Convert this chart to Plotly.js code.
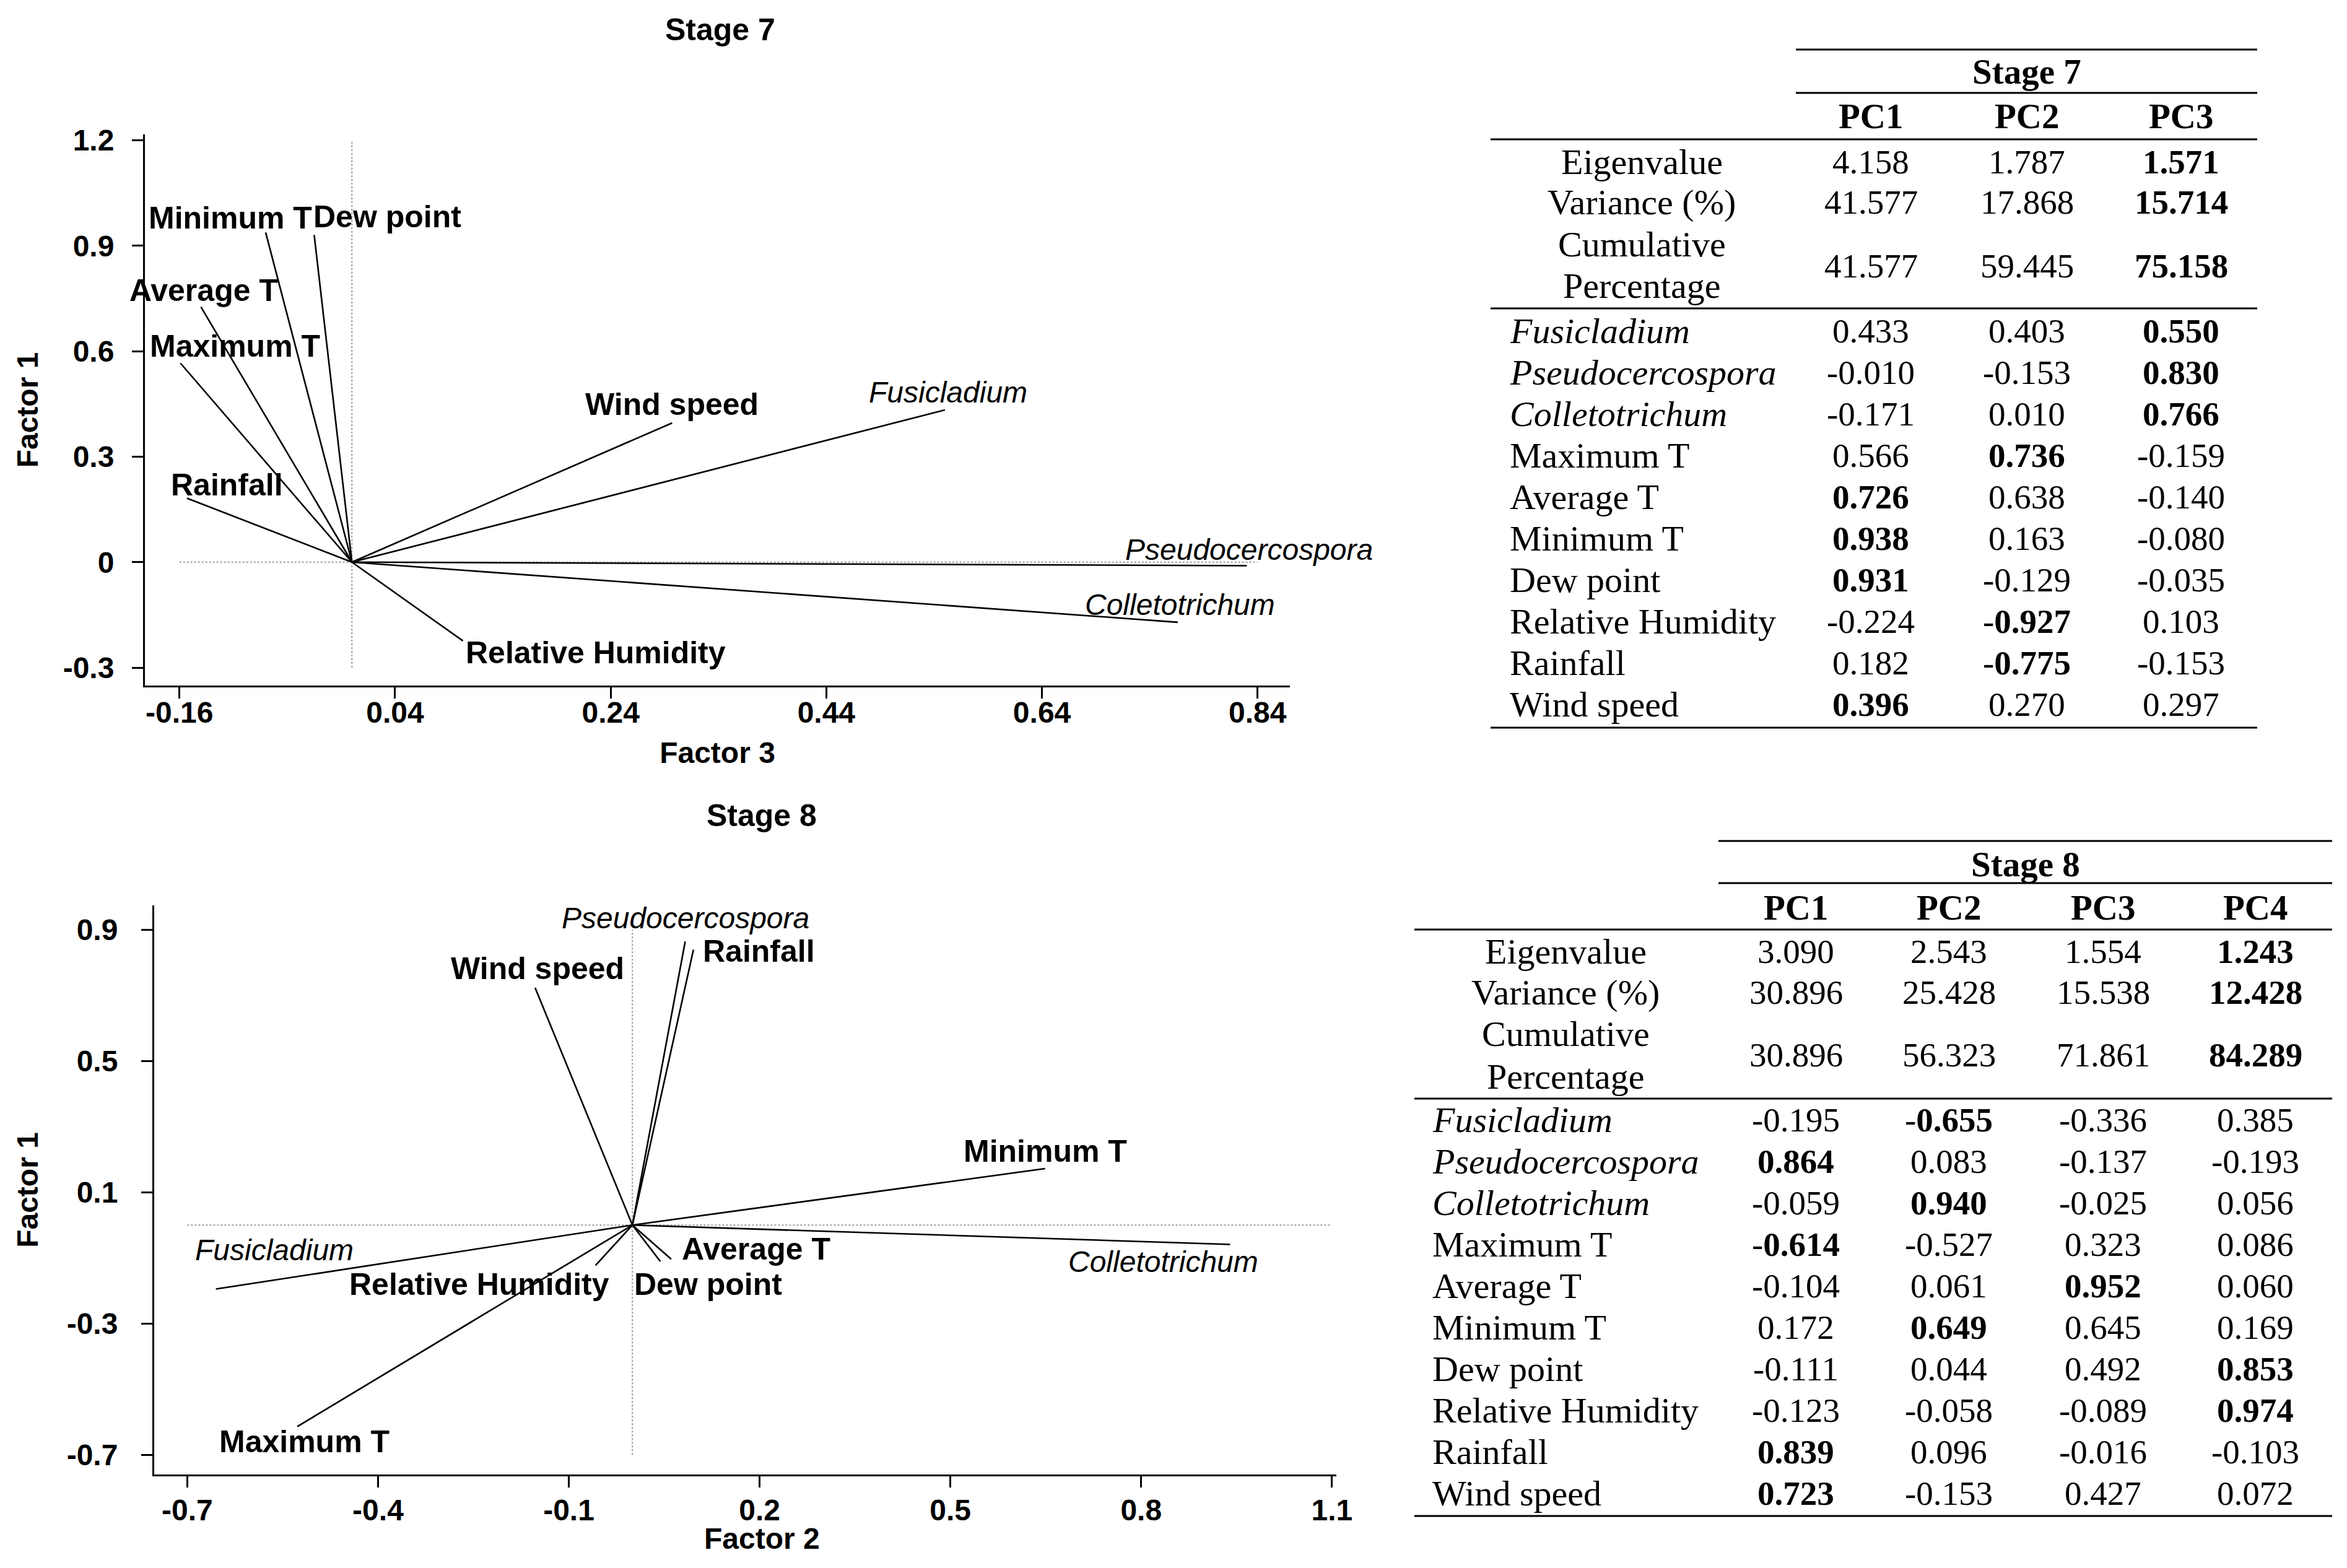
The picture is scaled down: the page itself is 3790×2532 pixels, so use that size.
<!DOCTYPE html>
<html><head><meta charset="utf-8">
<script src="https://cdn.plot.ly/plotly-3.0.1.min.js"></script>
<style>html,body{margin:0;padding:0;background:#fff}#chart{width:3790px;height:2532px}</style>
</head><body><div id="chart"></div>
<script>
const W = 3790, H = 2532;

// ---------- DATA ----------
const variables = ['Fusicladium','Pseudocercospora','Colletotrichum','Maximum T','Average T','Minimum T','Dew point','Relative Humidity','Rainfall','Wind speed'];
const italicVars = ['Fusicladium','Pseudocercospora','Colletotrichum'];

// Stage 7
const s7PCs = ['PC1','PC2','PC3'];
const s7Eigen = [4.158, 1.787, 1.571];
const s7Variance = [41.577, 17.868, 15.714];
const s7Cumulative = [41.577, 59.445, 75.158];
const s7PC1 = [0.433, -0.010, -0.171, 0.566, 0.726, 0.938, 0.931, -0.224, 0.182, 0.396];
const s7PC2 = [0.403, -0.153, 0.010, 0.736, 0.638, 0.163, -0.129, -0.927, -0.775, 0.270];
const s7PC3 = [0.550, 0.830, 0.766, -0.159, -0.140, -0.080, -0.035, 0.103, -0.153, 0.297];
const s7BoldCol = [2, 2, 2, 1, 0, 0, 0, 1, 1, 0];
const s7SummaryBoldCol = 2;
const s7XTicks = [-0.16, 0.04, 0.24, 0.44, 0.64, 0.84];
const s7XTickText = ['-0.16','0.04','0.24','0.44','0.64','0.84'];
const s7YTicks = [1.2, 0.9, 0.6, 0.3, 0, -0.3];
const s7YTickText = ['1.2','0.9','0.6','0.3','0','-0.3'];

// Stage 8
const s8PCs = ['PC1','PC2','PC3','PC4'];
const s8Eigen = [3.090, 2.543, 1.554, 1.243];
const s8Variance = [30.896, 25.428, 15.538, 12.428];
const s8Cumulative = [30.896, 56.323, 71.861, 84.289];
const s8PC1 = [-0.195, 0.864, -0.059, -0.614, -0.104, 0.172, -0.111, -0.123, 0.839, 0.723];
const s8PC2 = [-0.655, 0.083, 0.940, -0.527, 0.061, 0.649, 0.044, -0.058, 0.096, -0.153];
const s8PC3 = [-0.336, -0.137, -0.025, 0.323, 0.952, 0.645, 0.492, -0.089, -0.016, 0.427];
const s8PC4 = [0.385, -0.193, 0.056, 0.086, 0.060, 0.169, 0.853, 0.974, -0.103, 0.072];
const s8BoldCol = [1, 0, 1, 0, 2, 1, 3, 3, 0, 0];
const s8SummaryBoldCol = 3;
const s8XTicks = [-0.7, -0.4, -0.1, 0.2, 0.5, 0.8, 1.1];
const s8XTickText = ['-0.7','-0.4','-0.1','0.2','0.5','0.8','1.1'];
const s8YTicks = [0.9, 0.5, 0.1, -0.3, -0.7];
const s8YTickText = ['0.9','0.5','0.1','-0.3','-0.7'];

// ---------- STYLE / POSITIONS ----------
const SANS = 'Liberation Sans, Arial, sans-serif';
const SERIF = 'Liberation Serif, Times New Roman, serif';
// label centre offsets (px) from the arrow tip: [dx, dyUp]
const s7LabelOffsets = [[5,29],[4,26],[4,28],[88,28],[4,27],[-57,23],[118,29],[214,-19],[65,21],[0,30]];
const s8LabelOffsets = [[94,63],[1,38],[-108,-28],[11,-24],[137,16],[0,28],[77,-37],[-188,-31],[106,-2],[4,31]];

const px = v => v / W;
const py = v => 1 - v / H;

function vectorTrace(xs, ys, xa, ya) {
  const X = [], Y = [];
  xs.forEach((v, i) => { X.push(0, v, null); Y.push(0, ys[i], null); });
  return {type:'scatter', mode:'lines', x:X, y:Y, xaxis:xa, yaxis:ya,
          line:{color:'#000', width:2.6}, hoverinfo:'skip', showlegend:false};
}

const annotations = [];
const shapes = [];

function addLabels(xs, ys, offs, xref, yref) {
  variables.forEach((name, i) => {
    const it = italicVars.includes(name);
    annotations.push({xref, yref, x: xs[i], y: ys[i], text: name, showarrow:false,
      xanchor:'center', yanchor:'middle', xshift: offs[i][0], yshift: offs[i][1],
      font:{family:SANS, size: it ? 48 : 50, color:'#000', weight: it ? 400 : 700, style: it ? 'italic' : 'normal'}});
  });
}

function addRefLines(xTicks, yTicks, xref, yref) {
  const xmin = Math.min(...xTicks), xmax = Math.max(...xTicks);
  const ymin = Math.min(...yTicks), ymax = Math.max(...yTicks);
  shapes.push({type:'line', xref, yref, x0:xmin, x1:xmax, y0:0, y1:0, line:{color:'#9a9a9a', width:2, dash:'dot'}, layer:'below'});
  shapes.push({type:'line', xref, yref, x0:0, x1:0, y0:ymin, y1:ymax, line:{color:'#9a9a9a', width:2, dash:'dot'}, layer:'below'});
}

function fmt(v) { return v.toFixed(3); }
function boldNum(v) {
  const s = fmt(v);
  return s.startsWith('-') ? '-<b>' + s.slice(1) + '</b>' : '<b>' + s + '</b>';
}

function addTable(g, stage, pcs, eigen, variance, cumulative, loadCols, boldCols, summaryBold) {
  const FN = {family:SERIF, size:55, color:'#000'};
  const FL = {family:SERIF, size:58, color:'#000'};
  const FH = {family:SERIF, size:57, color:'#000'};
  const txt = (x, y, text, anchor, font) => annotations.push({xref:'paper', yref:'paper', x:px(x), y:py(y), text,
      showarrow:false, xanchor:anchor, yanchor:'middle', font:font});
  const line = (x0, x1, y, w) => shapes.push({type:'line', xref:'paper', yref:'paper', x0:px(x0), x1:px(x1), y0:py(y), y1:py(y), line:{color:'#000', width:w}});
  line(g.headX[0], g.headX[1], g.topY, 3);
  line(g.headX[0], g.headX[1], g.midY, 3);
  line(g.fullX[0], g.fullX[1], g.headLineY, 3);
  line(g.fullX[0], g.fullX[1], g.sepY, 3);
  line(g.fullX[0], g.fullX[1], g.bottomY, 3);
  txt((g.headX[0] + g.headX[1]) / 2, g.stageY, '<b>' + stage + '</b>', 'center', FH);
  pcs.forEach((p, j) => {
    txt(g.colX[j], g.pcY, '<b>' + p + '</b>', 'center', FH);
    const b = j === summaryBold;
    txt(g.colX[j], g.eigenY, b ? boldNum(eigen[j]) : fmt(eigen[j]), 'center', FN);
    txt(g.colX[j], g.varY, b ? boldNum(variance[j]) : fmt(variance[j]), 'center', FN);
    txt(g.colX[j], g.cumValY, b ? boldNum(cumulative[j]) : fmt(cumulative[j]), 'center', FN);
  });
  txt(g.labelCX, g.eigenY, 'Eigenvalue', 'center', FL);
  txt(g.labelCX, g.varY, 'Variance (%)', 'center', FL);
  txt(g.labelCX, g.cum1Y, 'Cumulative', 'center', FL);
  txt(g.labelCX, g.cum2Y, 'Percentage', 'center', FL);
  variables.forEach((name, i) => {
    const y = g.firstRowY + i * g.rowStep;
    txt(g.labelLX, y, italicVars.includes(name) ? '<i>' + name + '</i>' : name, 'left', FL);
    loadCols.forEach((col, j) => {
      txt(g.colX[j], y, boldCols[i] === j ? boldNum(col[i]) : fmt(col[i]), 'center', FN);
    });
  });
}

// ---------- BUILD ----------
const traces = [
  vectorTrace(s7PC3, s7PC1, 'x', 'y'),
  vectorTrace(s8PC2, s8PC1, 'x2', 'y2')
];
addLabels(s7PC3, s7PC1, s7LabelOffsets, 'x', 'y');
addLabels(s8PC2, s8PC1, s8LabelOffsets, 'x2', 'y2');
addRefLines(s7XTicks, s7YTicks, 'x', 'y');
addRefLines(s8XTicks, s8YTicks, 'x2', 'y2');

addTable({headX:[2900,3645], fullX:[2407,3645], topY:80, stageY:116, midY:150, pcY:188, headLineY:225,
          eigenY:261, varY:326, cum1Y:394, cum2Y:462, cumValY:430, sepY:498, firstRowY:534, rowStep:67.1,
          bottomY:1175, colX:[3021,3273,3522], labelCX:2651, labelLX:2436},
         'Stage 7', s7PCs, s7Eigen, s7Variance, s7Cumulative, [s7PC1, s7PC2, s7PC3], s7BoldCol, s7SummaryBoldCol);
addTable({headX:[2775,3766], fullX:[2284,3766], topY:1358, stageY:1395, midY:1426, pcY:1465, headLineY:1501,
          eigenY:1537, varY:1602, cum1Y:1670, cum2Y:1738, cumValY:1704, sepY:1774, firstRowY:1808, rowStep:67.1,
          bottomY:2448, colX:[2900,3147,3396,3642], labelCX:2528, labelLX:2311},
         'Stage 8', s8PCs, s8Eigen, s8Variance, s8Cumulative, [s8PC1, s8PC2, s8PC3, s8PC4], s8BoldCol, s8SummaryBoldCol);

// plot titles
annotations.push({xref:'paper', yref:'paper', x:px(1163), y:py(48), text:'<b>Stage 7</b>', showarrow:false,
  xanchor:'center', yanchor:'middle', font:{family:SANS, size:50, color:'#000'}});
annotations.push({xref:'paper', yref:'paper', x:px(1230), y:py(1317), text:'<b>Stage 8</b>', showarrow:false,
  xanchor:'center', yanchor:'middle', font:{family:SANS, size:50, color:'#000'}});
// Stage 8 x-axis title (off-centre in the reference)
annotations.push({xref:'paper', yref:'paper', x:px(1230), y:py(2484), text:'<b>Factor 2</b>', showarrow:false,
  xanchor:'center', yanchor:'middle', font:{family:SANS, size:48, color:'#000'}});

const tickFont = {family:SANS, size:48, color:'#000', weight:700};
const titleFont = {family:SANS, size:48, color:'#000', weight:700};
function axis(extra) {
  return Object.assign({tickmode:'array', ticks:'outside', ticklen:18, tickwidth:3, tickcolor:'#000',
    showline:true, linewidth:3, linecolor:'#000', showgrid:false, zeroline:false, tickfont:tickFont,
    fixedrange:true}, extra);
}

const layout = {
  width: W, height: H,
  margin:{l:0, r:0, t:0, b:0},
  paper_bgcolor:'#fff', plot_bgcolor:'#fff',
  showlegend:false,
  xaxis: axis({domain:[px(234), px(2083)], range:[-0.192, 0.870], anchor:'y', tickvals:s7XTicks, ticktext:s7XTickText,
               ticklabelstandoff:-19, title:{text:'Factor 3', font:titleFont, standoff:23}}),
  yaxis: axis({domain:[py(1107), py(217)], range:[-0.351, 1.217], anchor:'x', tickvals:s7YTicks, ticktext:s7YTickText,
               ticklabelstandoff:19, title:{text:'Factor 1', font:titleFont, standoff:25}}),
  xaxis2: axis({domain:[px(249), px(2158)], range:[-0.752, 1.107], anchor:'y2', tickvals:s8XTicks, ticktext:s8XTickText,
               ticklabelstandoff:-5}),
  yaxis2: axis({domain:[py(2381), py(1462)], range:[-0.760, 0.974], anchor:'x2', tickvals:s8YTicks, ticktext:s8YTickText,
               ticklabelstandoff:28, title:{text:'Factor 1', font:titleFont, standoff:31}}),
  annotations, shapes
};

Plotly.newPlot('chart', traces, layout, {staticPlot:true, displayModeBar:false});
</script></body></html>
